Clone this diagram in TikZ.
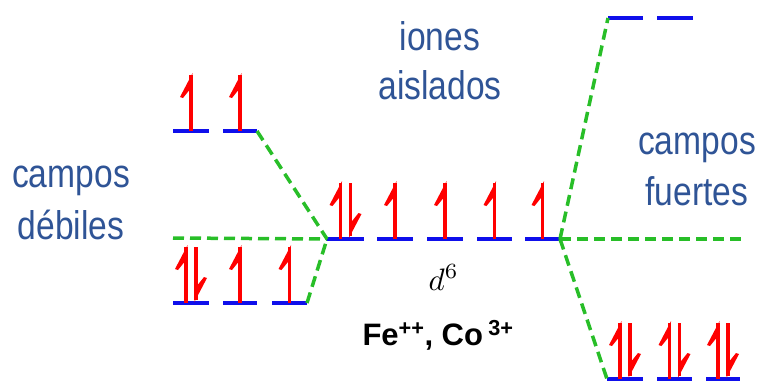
\documentclass[tikz,border=0pt]{standalone}
\usepackage{fontspec}
\newfontfamily\lblfont[FakeStretch=0.84]{Liberation Sans}
\newfontfamily\ionfont{Liberation Sans}
\definecolor{lvlblue}{RGB}{15,15,235}
\definecolor{spinred}{RGB}{255,0,0}
\definecolor{dgreen}{RGB}{40,190,40}
\definecolor{txtblue}{RGB}{47,84,150}
\tikzset{
  lvl/.style={draw=lvlblue, line width=4pt},
  conn/.style={draw=dgreen, line width=3.5pt, dash pattern=on 11pt off 6pt},
  lbl/.style={text=txtblue, font=\lblfont\fontsize{40}{50}\selectfont, inner sep=0pt, anchor=base},
  upspin/.pic={
    \fill[spinred] (-1.6,0) rectangle (1.6,-56);
    \fill[spinred] (1.6,-58) -- (-11,-34) -- (-8,-33) -- (-1.6,-41) -- cycle;
  },
  dnspin/.pic={
    \fill[spinred] (-1.6,-3) rectangle (1.6,-56);
    \fill[spinred] (-1.6,-1) -- (11,-25) -- (8,-26) -- (1.6,-18) -- cycle;
  },
  pairspin/.pic={
    \pic at (-5,0) {upspin};
    \pic at (5,0) {dnspin};
  }
}
\begin{document}
\begin{tikzpicture}[x=1pt,y=-1pt]
\useasboundingbox (0,0) rectangle (763,381);

\coordinate (hl-w) at (173,238);
\coordinate (hr-e) at (743,239);

% levels: weak field, upper (eg)
\draw[lvl] (173,131) coordinate (wu1-w) -- (209,131) coordinate (wu1-e);
\draw[lvl] (223,131) coordinate (wu2-w) -- (257,131) coordinate (wu2-e);
% weak field, lower (t2g)
\draw[lvl] (173,303) coordinate (wl1-w) -- (209,303) coordinate (wl1-e);
\draw[lvl] (223,303) coordinate (wl2-w) -- (257,303) coordinate (wl2-e);
\draw[lvl] (272,303) coordinate (wl3-w) -- (307,303) coordinate (wl3-e);
% free ion
\draw[lvl] (327,239) coordinate (c1-w) -- (364,239) coordinate (c1-e);
\draw[lvl] (377,239) coordinate (c2-w) -- (413,239) coordinate (c2-e);
\draw[lvl] (427,239) coordinate (c3-w) -- (463,239) coordinate (c3-e);
\draw[lvl] (477,239) coordinate (c4-w) -- (512,239) coordinate (c4-e);
\draw[lvl] (525,239) coordinate (c5-w) -- (560,239) coordinate (c5-e);
% strong field, upper
\draw[lvl] (608,18) coordinate (su1-w) -- (643,18) coordinate (su1-e);
\draw[lvl] (657,18) coordinate (su2-w) -- (693,18) coordinate (su2-e);
% strong field, lower
\draw[lvl] (607,379) coordinate (sl1-w) -- (643,379) coordinate (sl1-e);
\draw[lvl] (657,379) coordinate (sl2-w) -- (692,379) coordinate (sl2-e);
\draw[lvl] (706,379) coordinate (sl3-w) -- (740,379) coordinate (sl3-e);

% connectors
\draw[conn] (hl-w) -- (c1-w);
\draw[conn] (c5-e) -- (hr-e);
\draw[conn] (wu2-e) -- (c1-w);
\draw[conn] (wl3-e) -- (c1-w);
\draw[conn] (c5-e) -- (su1-w);
\draw[conn] (c5-e) -- (sl1-w);

% electrons
\pic at (191,131) {upspin};
\pic at (240,131) {upspin};
\pic at (191,303) {pairspin};
\pic at (240,303) {upspin};
\pic at (289.5,303) {upspin};
\pic at (345.5,239) {pairspin};
\pic at (395,239) {upspin};
\pic at (445,239) {upspin};
\pic at (494.5,239) {upspin};
\pic at (542.5,239) {upspin};
\pic at (625,379) {pairspin};
\pic at (674.5,379) {pairspin};
\pic at (723,379) {pairspin};

% labels
\node[lbl] (w1) at (71,187) {campos};
\node[lbl] (w2) at (71,239) {débiles};
\node[lbl] (i1) at (440,50) {iones};
\node[lbl] (i2) at (440,99) {aislados};
\node[lbl] (s1) at (697,154) {campos};
\node[lbl] (s2) at (697,205) {fuertes};
\node[anchor=base west, inner sep=0pt, scale=3.1] (d6) at (428,290) {$d^6$};
\node[anchor=base, inner sep=0pt, font=\ionfont\bfseries\fontsize{31}{36}\selectfont] (ions) at (438,345) {Fe\textsuperscript{++}, Co\,\textsuperscript{3+}};
\end{tikzpicture}
\end{document}
